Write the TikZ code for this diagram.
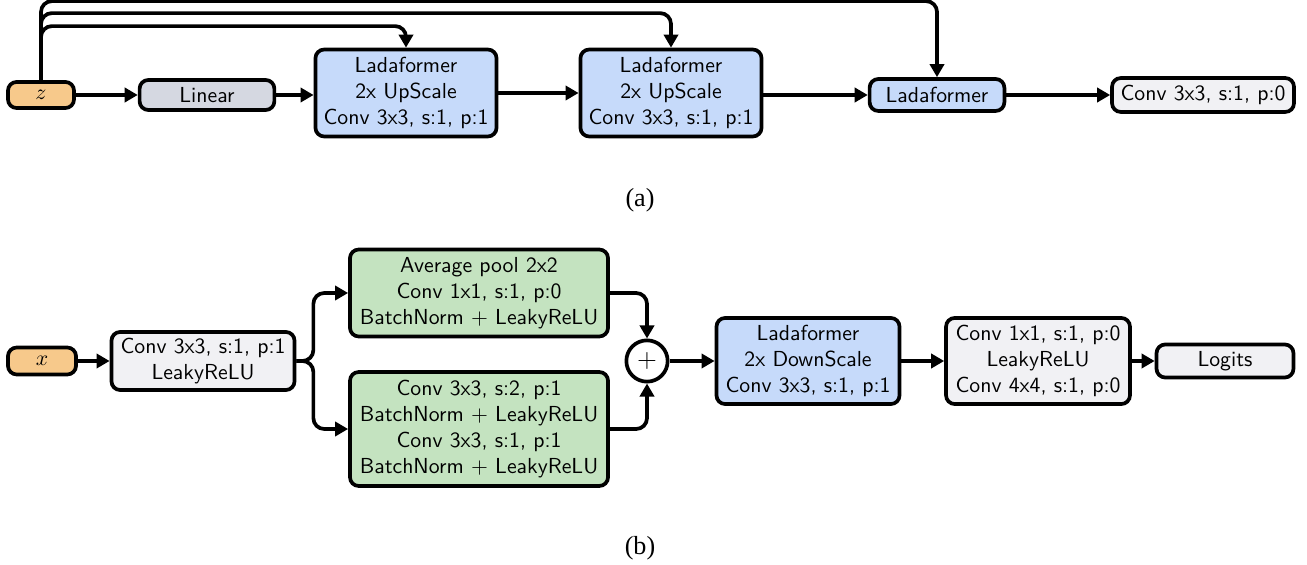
\documentclass[tikz,border=0pt]{standalone}
\usepackage{fontspec}
\newfontfamily\capfont{Liberation Serif}
\usetikzlibrary{arrows.meta,calc}
\definecolor{corange}{HTML}{F7C98B}
\definecolor{cgray}{HTML}{D5D8E1}
\definecolor{cblue}{HTML}{C6DAFA}
\definecolor{cgreen}{HTML}{C4E3C0}
\definecolor{clight}{HTML}{F1F1F4}
\tikzset{
  box/.style={draw, line width=1.7pt, rounded corners=4pt, align=center, inner sep=1pt, font=\sffamily},
  arr/.style={line width=1.7pt, -{Triangle[length=6pt,width=6.5pt]}},
  captext/.style={font=\capfont\large},
}
\begin{document}
\begin{tikzpicture}[x=0.46pt,y=-0.46pt]
\useasboundingbox (0,0) rectangle (1307,565);
% (a)
\node[box, fill=corange, minimum width=30.4pt, minimum height=12pt] (z) at (41,95) {$z$};
\node[box, fill=cgray, minimum width=62pt, minimum height=13.8pt] (lin) at (207,95) {Linear};
\node[box, fill=cblue, minimum width=83.3pt, minimum height=40pt] (l1) at (406,93) {Ladaformer\\2x UpScale\\Conv 3x3, s:1, p:1};
\node[box, fill=cblue, minimum width=83.3pt, minimum height=40pt] (l2) at (671,93) {Ladaformer\\2x UpScale\\Conv 3x3, s:1, p:1};
\node[box, fill=cblue, minimum width=62pt, minimum height=14.7pt] (l3) at (937,95) {Ladaformer};
\node[box, fill=clight, minimum width=83.7pt, minimum height=15.6pt] (c0) at (1203,95) {Conv 3x3, s:1, p:0};
\draw[arr] (z) -- (lin);
\draw[arr] (lin) -- (l1.west |- lin);
\draw[arr] (l1) -- (l2);
\draw[arr] (l2.east |- l3) -- (l3);
\draw[arr] (l3) -- (c0);
\draw[arr, rounded corners=5pt] (z.north) -- ++(0,-54) -| (l1.north);
\draw[arr, rounded corners=5pt] (z.north) -- ++(0,-67) -| (l2.north);
\draw[arr, rounded corners=5pt] (z.north) -- ++(0,-79) -| (l3.north);
\node[captext] (capa) at (640,200) {(a)};
% (b)
\node[box, fill=corange, minimum width=31.3pt, minimum height=12.4pt] (x) at (42,361) {$x$};
\node[box, fill=clight, minimum width=84.2pt, minimum height=26.7pt] (cv) at (203,361) {Conv 3x3, s:1, p:1\\LeakyReLU};
\node[box, fill=cgreen, minimum width=118.7pt, minimum height=40pt] (gt) at (479,293) {Average pool 2x2\\Conv 1x1, s:1, p:0\\BatchNorm + LeakyReLU};
\node[box, fill=cgreen, minimum width=118.7pt, minimum height=52.4pt] (gb) at (479,429) {Conv 3x3, s:2, p:1\\BatchNorm + LeakyReLU\\Conv 3x3, s:1, p:1\\BatchNorm + LeakyReLU};
\node[draw, circle, line width=1.7pt, minimum size=19pt, inner sep=0pt, fill=white] (plus) at (647,361) {\large$+$};
\node[box, fill=cblue, minimum width=84.2pt, minimum height=39.6pt] (ld) at (808,361) {Ladaformer\\2x DownScale\\Conv 3x3, s:1, p:1};
\node[box, fill=clight, minimum width=84.6pt, minimum height=39.6pt] (c1) at (1038,361) {Conv 1x1, s:1, p:0\\LeakyReLU\\Conv 4x4, s:1, p:0};
\node[box, fill=clight, minimum width=63pt, minimum height=15.2pt] (lg) at (1225,361) {Logits};
\draw[arr] (x) -- (cv);
\draw[arr, rounded corners=5pt] (cv.east) -- ++(17,0) |- (gt.west);
\draw[arr, rounded corners=5pt] (cv.east) -- ++(17,0) |- (gb.west);
\draw[arr, rounded corners=5pt] (gt.east) -| (plus.north);
\draw[arr, rounded corners=5pt] (gb.east) -| (plus.south);
\draw[arr] (plus) -- (ld);
\draw[arr] (ld) -- (c1);
\draw[arr] (c1) -- (lg);
\node[captext] (capb) at (640,548) {(b)};
\end{tikzpicture}
\end{document}
